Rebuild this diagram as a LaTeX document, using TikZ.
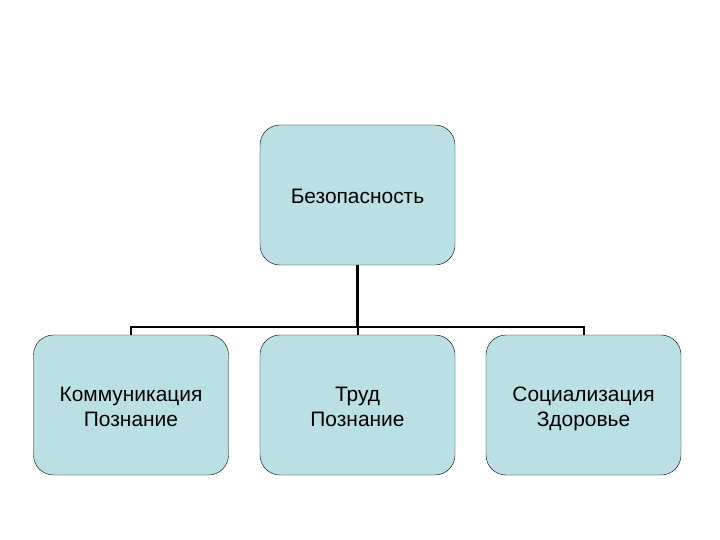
\documentclass[tikz,border=0pt]{standalone}
\usepackage{fontspec}
\setmainfont{Liberation Sans}
\definecolor{BoxBlue}{RGB}{187, 224, 227}
\definecolor{LineBlack}{RGB}{0, 0, 0}
\usetikzlibrary{positioning}
\newcommand{\highstrut}{\rule{0pt}{23bp}}
\newcommand{\lowstrut}{\rule[-5bp]{0pt}{5bp}}
\tikzset{
    topicbox/.style={draw=LineBlack, fill=BoxBlue, rounded corners=20bp, minimum width=195bp, minimum height=140bp, align=center, font=\fontsize{21}{25}\selectfont, text=LineBlack},
    busline/.style={draw=LineBlack, line width=2bp}
}

\begin{document}
\begin{tikzpicture}[x=1bp, y=-1bp]

    \useasboundingbox (0,0) rectangle (720,540);

    %Top
    \node[topicbox] (safety) at (357.5,195) {\highstrut Безопасность\lowstrut};

    %Bottom row
    \node[topicbox] (comm) at (131,405) {\highstrut Коммуникация\\Познание\lowstrut};
    \node[topicbox] (work) at (357.5,405) {\highstrut Труд\\Познание\lowstrut};
    \node[topicbox] (social) at (583.5,405) {\highstrut Социализация\\Здоровье\lowstrut};

    %Connectors
    \coordinate (bus) at (357.5,327);
    \draw[LineBlack, line width=3bp] (safety.south) -- (bus);
    \draw[busline] (comm.north) -- (comm.north |- bus) -- (social.north |- bus) -- (social.north);
    \draw[busline] (work.north) -- (bus);

\end{tikzpicture}
\end{document}
